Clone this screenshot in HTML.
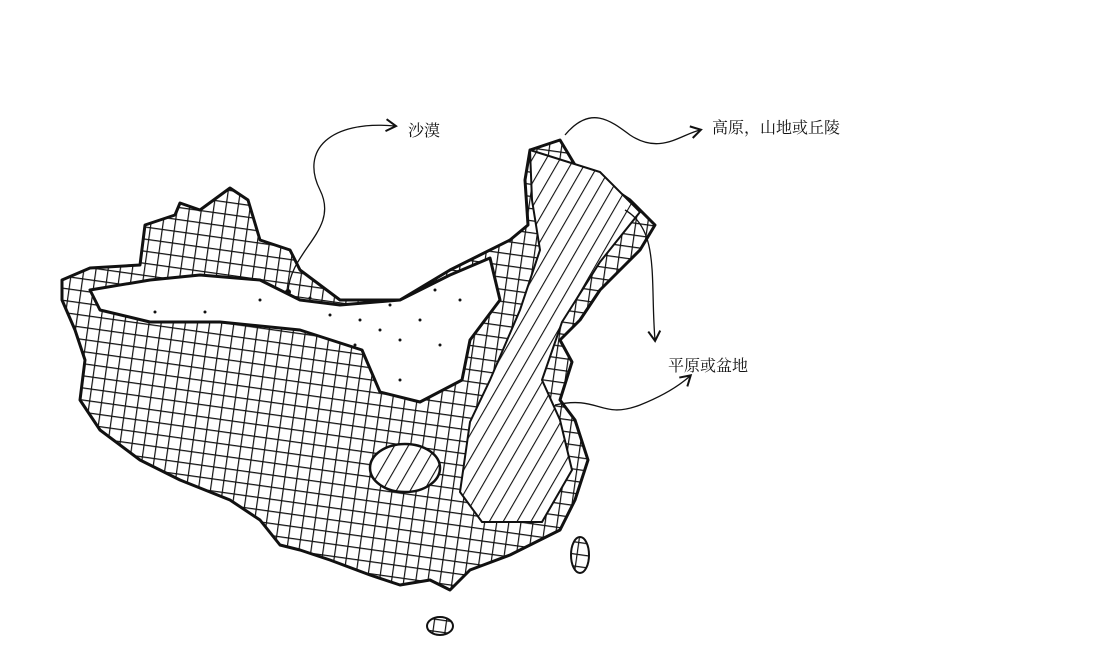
<!DOCTYPE html>
<html><head><meta charset="utf-8">
<style>
html,body{margin:0;padding:0;background:#fff;}
svg{display:block;}
text{font-family:"Liberation Serif","Noto Serif CJK SC",serif;font-size:16px;fill:#111;}
</style></head>
<body>
<svg width="1100" height="668" viewBox="0 0 1100 668" xmlns="http://www.w3.org/2000/svg">
<defs>
<pattern id="cross" width="12" height="12" patternUnits="userSpaceOnUse" patternTransform="rotate(8)">
<path d="M0 0 L0 12 M0 0 L12 0" stroke="#111" stroke-width="2.4" fill="none"/>
</pattern>
<pattern id="diag" width="12" height="12" patternUnits="userSpaceOnUse" patternTransform="rotate(30)">
<path d="M0 0 L0 12" stroke="#111" stroke-width="2.2"/>
</pattern>
<marker id="ah" markerWidth="14" markerHeight="14" refX="10" refY="7" orient="auto" markerUnits="userSpaceOnUse">
<path d="M1 1 L11 7 L1 13" fill="none" stroke="#111" stroke-width="2"/>
</marker>
</defs>
<path d="M62 280 L90 268 L140 265 L145 225 L175 215 L180 203 L200 210 L230 188 L248 200 L260 240 L290 250 L300 270 L340 300 L400 300 L450 270 L480 255 L510 240 L528 225 L525 180 L530 150 L560 140 L575 165 L600 180 L630 200 L655 225 L640 250 L620 270 L600 290 L580 320 L560 340 L572 362 L560 400 L575 420 L588 460 L575 500 L560 530 L540 540 L510 555 L470 570 L450 590 L430 580 L400 585 L370 575 L330 560 L300 550 L280 545 L260 520 L230 500 L180 480 L140 460 L100 430 L80 400 L85 360 L75 330 L62 300 Z" fill="url(#cross)" stroke="#111" stroke-width="3" stroke-linejoin="round"/>
<path d="M90 290 L150 280 L200 275 L260 280 L300 300 L340 305 L400 300 L450 275 L490 258 L500 300 L470 340 L462 380 L420 402 L380 392 L362 350 L300 330 L220 322 L150 322 L100 310 Z" fill="#fff" stroke="#111" stroke-width="3" stroke-linejoin="round"/>
<path d="M530 150 L600 172 L640 212 L600 262 L562 322 L542 380 L560 420 L572 470 L542 522 L482 522 L460 492 L470 422 L490 380 L520 310 L540 250 L532 200 Z" fill="#fff" stroke="none"/>
<path d="M530 150 L600 172 L640 212 L600 262 L562 322 L542 380 L560 420 L572 470 L542 522 L482 522 L460 492 L470 422 L490 380 L520 310 L540 250 L532 200 Z" fill="url(#diag)" stroke="#111" stroke-width="2"/>
<ellipse cx="405" cy="468" rx="35" ry="24" fill="#fff" stroke="#111" stroke-width="2.5"/>
<ellipse cx="405" cy="468" rx="35" ry="24" fill="url(#diag)"/>
<ellipse cx="580" cy="555" rx="9" ry="18" fill="url(#cross)" stroke="#111" stroke-width="2"/>
<ellipse cx="440" cy="626" rx="13" ry="9" fill="url(#cross)" stroke="#111" stroke-width="2"/>
<g fill="#111">
<circle cx="288" cy="292" r="3"/><circle cx="155" cy="312" r="1.5"/><circle cx="205" cy="312" r="1.5"/><circle cx="260" cy="300" r="1.5"/><circle cx="310" cy="298" r="1.5"/><circle cx="330" cy="315" r="1.5"/><circle cx="360" cy="320" r="1.5"/><circle cx="380" cy="330" r="1.5"/><circle cx="400" cy="340" r="1.5"/><circle cx="420" cy="320" r="1.5"/><circle cx="440" cy="345" r="1.5"/><circle cx="460" cy="300" r="1.5"/><circle cx="400" cy="380" r="1.5"/><circle cx="390" cy="305" r="1.5"/><circle cx="435" cy="290" r="1.5"/><circle cx="355" cy="345" r="1.5"/>
</g>
<g fill="none" stroke="#111" stroke-width="1.3">
<path d="M288 292 C290 250 340 230 320 190 C300 150 330 120 395 126" marker-end="url(#ah)"/>
<path d="M565 135 C590 105 610 120 630 135 C660 155 680 135 700 130" marker-end="url(#ah)"/>
<path d="M625 210 C660 230 650 280 655 340" marker-end="url(#ah)"/>
<path d="M555 405 C600 395 600 420 640 405 C665 395 680 385 690 376" marker-end="url(#ah)"/>
</g>
<text x="408" y="136">沙漠</text>
<text x="712" y="133">高原，山地或丘陵</text>
<text x="668" y="371">平原或盆地</text>
</svg>
</body></html>
